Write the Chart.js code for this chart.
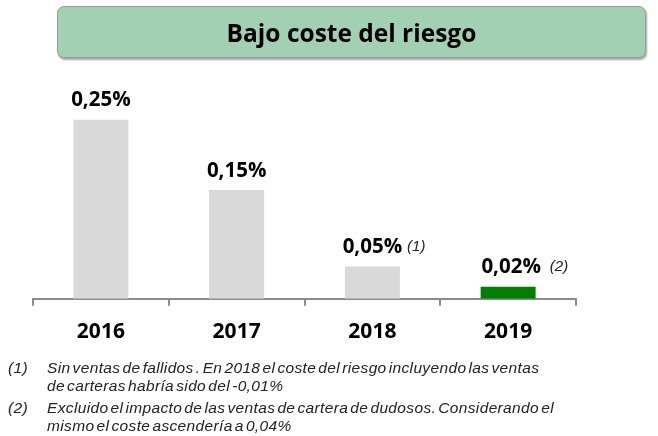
<!DOCTYPE html>
<html>
<head>
<meta charset="utf-8">
<script src="https://cdn.jsdelivr.net/npm/chart.js@4.4.1/dist/chart.umd.min.js"></script>
<style>
  body { margin: 0; background: #fff; width: 658px; height: 436px; position: relative; overflow: hidden; }
  #titulo {
    position: absolute; left: 57px; top: 6px; width: 587px; height: 50px;
    background: #a2d0b2; border: 1px solid #9a9a9a; border-radius: 7px;
    box-shadow: 1px 2px 2px rgba(0,0,0,0.35);
    font: bold 24.5px "Open Sans", sans-serif; color: #000;
    text-align: center; line-height: 51px;
  }
  #grafico-box { position: absolute; left: 0; top: 0; width: 658px; height: 367px; }
  .nota {
    position: absolute; left: 8px; font: italic 15.5px "Liberation Sans", Arial, sans-serif;
    color: #222; letter-spacing: 0.35px; word-spacing: -2.5px; line-height: 18px;
  }
  .nota span { position: absolute; left: 39px; white-space: nowrap; }
</style>
</head>
<body>
<div id="grafico-box"><canvas id="grafico" width="658" height="367"></canvas></div>
<div id="titulo">Bajo coste del riesgo</div>
<div class="nota" style="top:359px">(1)<span>Sin ventas de fallidos . En 2018 el coste del riesgo incluyendo las ventas<br>de carteras habría sido del -0,01%</span></div>
<div class="nota" style="top:399px">(2)<span>Excluido el impacto de las ventas de cartera de dudosos. Considerando el<br>mismo el coste ascendería a 0,04%</span></div>
<script>
const anos = ["2016", "2017", "2018", "2019"];
const coste = [0.25, 0.152, 0.045, 0.017];
const etiquetas = ["0,25%", "0,15%", "0,05%", "0,02%"];
const notas = ["", "", "(1)", "(2)"];
const colores = ["#d9d9d9", "#d9d9d9", "#d9d9d9", "#008000"];

// etiquetas encima de las barras
const etiquetasPlugin = {
  id: "etiquetas",
  afterDatasetsDraw(chart) {
    const ctx = chart.ctx;
    const meta = chart.getDatasetMeta(0);
    ctx.save();
    meta.data.forEach((bar, i) => {
      ctx.font = 'bold 20.5px "Open Sans", sans-serif';
      ctx.fillStyle = "#000";
      ctx.textAlign = "center";
      ctx.textBaseline = "bottom";
      ctx.fillText(etiquetas[i], bar.x + (i == 3 ? 3 : 0), bar.y - 9);
      if (notas[i]) {
        const w = ctx.measureText(etiquetas[i]).width;
        ctx.font = 'italic 15px "Liberation Sans", Arial, sans-serif';
        ctx.fillStyle = "#222";
        ctx.textAlign = "left";
        ctx.fillText(notas[i], bar.x + w / 2 + (i == 3 ? 12 : 5), bar.y - 12);
      }
    });
    ctx.restore();
  }
};

const ctx = document.getElementById("grafico");

new Chart(ctx, {
  type: "bar",
  data: {
    labels: anos,
    datasets: [{
      label: "Coste del riesgo",
      data: coste,
      backgroundColor: colores,
      barPercentage: 0.81,
      categoryPercentage: 0.5
    }]
  },
  options: {
    responsive: false,
    animation: false,
    layout: { padding: { left: 33, right: 82, top: 84, bottom: 8 } },
    plugins: { legend: { display: false }, tooltip: { enabled: false } },
    scales: {
      y: { display: false, min: 0, max: 0.30 },
      x: {
        grid: { drawOnChartArea: false, drawTicks: true, tickLength: 7, color: "#8c8c8c", lineWidth: 2 },
        border: { color: "#8c8c8c", width: 2 },
        ticks: { color: "#000", padding: 14, font: { family: "Open Sans", weight: "bold", size: 21 } }
      }
    }
  },
  plugins: [etiquetasPlugin]
});
</script>
</body>
</html>
